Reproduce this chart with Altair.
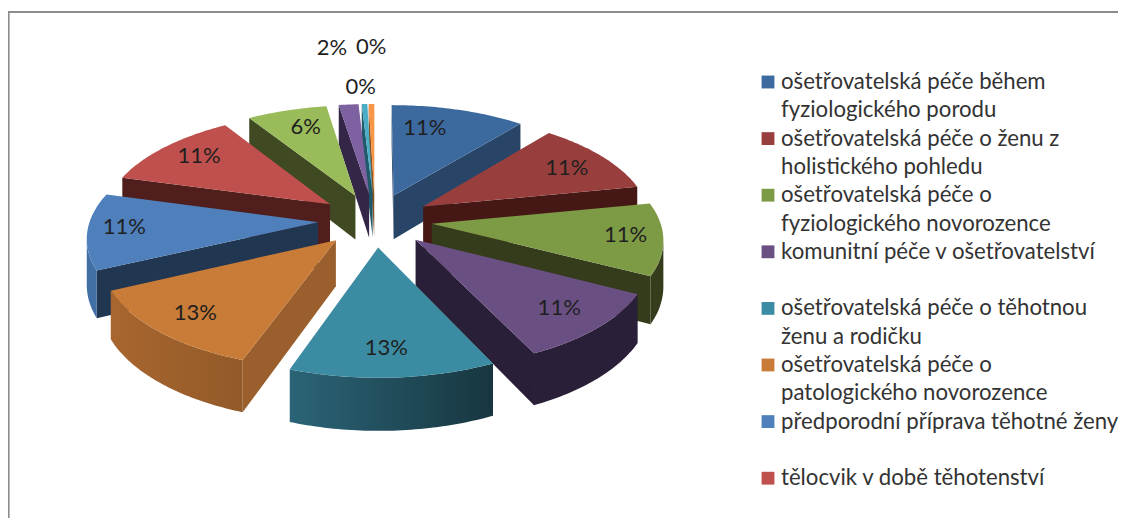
import math
import altair as alt
import pandas as pd

# ---- chart values ----
categories = [
    "ošetřovatelská péče během fyziologického porodu",
    "ošetřovatelská péče o ženu z holistického pohledu",
    "ošetřovatelská péče o fyziologického novorozence",
    "komunitní péče v ošetřovatelství",
    "ošetřovatelská péče o těhotnou ženu a rodičku",
    "ošetřovatelská péče o patologického novorozence",
    "předporodní příprava těhotné ženy",
    "tělocvik v době těhotenství",
    "další 1", "další 2", "další 3", "další 4",
]
values = [10.9, 11.0, 10.7, 10.3, 12.5, 12.6, 11.3, 11.7, 6.5, 1.6, 0.45, 0.45]
labels = ["11%", "11%", "11%", "11%", "13%", "13%", "11%", "11%", "6%", "2%", "0%", "0%"]
legend_lines = [
    ["ošetřovatelská péče během", "fyziologického porodu"],
    ["ošetřovatelská péče o ženu z", "holistického pohledu"],
    ["ošetřovatelská péče o", "fyziologického novorozence"],
    ["komunitní péče v ošetřovatelství", ""],
    ["ošetřovatelská péče o těhotnou", "ženu a rodičku"],
    ["ošetřovatelská péče o", "patologického novorozence"],
    ["předporodní příprava těhotné ženy", ""],
    ["tělocvik v době těhotenství", ""],
]
top_colors = ["#3D6A9E", "#983F3D", "#7D9A45", "#6A4F82", "#3B8CA3", "#C97B38",
              "#4F80BC", "#BF504D", "#9ABB59", "#7E61A0", "#4AACC5", "#F79646"]
wall_colors = ["#284568", "#451815", "#343C1C", "#2A1F38", "#1E4A58", "#9A5F2C",
               "#203651", "#501E1C", "#404A22", "#342646", "#1F5A6A", "#8A5020"]
outer_colors = ["#284568", "#451815", "#343C1C", "#2A1F38",
                ("#2B6477", "#173640"), ("#A9662F", "#925A28"),
                "#426FA6", "#501E1C", "#404A22", "#342646", "#1F5A6A", "#8A5020"]

# ---- page and projection of the tilted pie ----
W, H = 1110, 510
OX, OY = 8, 8
CX, CY = 375 - OX, 220 - OY
A, B, K = 228.0, 107.0, 0.122
DEPTH, EXPLODE, LABEL_R = 45.0, 0.25, 0.72
# label adjustments relative to the computed anchor
nudges = [(-17, -4), (13, -2), (28, 0), (16, 7), (-2, 10), (-17, 9),
          (-28, -2), (-10, -6), (1, -6), (-22, -80), (-6, -40), (-1, -80)]

x_scale = alt.Scale(domain=[0, W], range=[0, W], nice=False, zero=False)
y_scale = alt.Scale(domain=[0, H], range=[0, H], nice=False, zero=False)


def project(u, v, h=0.0):
    s = 1.0 / (1.0 - K * v)
    return CX + A * u * s, CY + B * v * s + DEPTH * h * s


def direction(deg):
    t = math.radians(deg)
    return math.sin(t), -math.cos(t)


def polygon(points, fill):
    df = pd.DataFrame({"x": [p[0] for p in points], "y": [p[1] for p in points],
                       "i": range(len(points))})
    if isinstance(fill, tuple):
        fill = alt.Gradient(gradient="linear", x1=0, x2=1, y1=0, y2=0,
                            stops=[alt.GradientStop(color=fill[0], offset=0),
                                   alt.GradientStop(color=fill[1], offset=1)])
    return alt.Chart(df).mark_line(fill=fill, stroke="transparent", strokeWidth=0).encode(
        x=alt.X("x:Q", scale=x_scale, axis=None),
        y=alt.Y("y:Q", scale=y_scale, axis=None),
        order="i:Q",
    )


layers = []
slices = []
total = sum(values)
angle = 0.0
for idx, val in enumerate(values):
    start, end = angle, angle + 360.0 * val / total
    angle = end
    mid = (start + end) / 2
    du, dv = direction(mid)
    ou, ov = EXPLODE * du, EXPLODE * dv
    steps = max(2, int(end - start) + 1)
    ground = []
    for n in range(steps + 1):
        su, sv = direction(start + (end - start) * n / steps)
        ground.append((ou + su, ov + sv))
    slices.append(dict(idx=idx, mid=mid, o=(ou, ov), ground=ground,
                       depth=ov + 0.5 * dv))

for s in sorted(slices, key=lambda q: q["depth"]):
    idx = s["idx"]
    ou, ov = s["o"]
    g = s["ground"]
    apex = project(ou, ov)
    apex_low = project(ou, ov, 1)
    top = [project(u, v) for u, v in g]
    low = [project(u, v, 1) for u, v in g]
    mid_pt = top[len(top) // 2]
    for k in (0, -1):
        c = top[k]
        dx = c[0] - apex[0]
        line_y = apex[1] + (c[1] - apex[1]) * ((mid_pt[0] - apex[0]) / dx) if abs(dx) > 1e-6 else None
        if line_y is None:
            continue
        if mid_pt[1] < line_y:
            layers.append(polygon([apex, c, low[k], apex_low], wall_colors[idx]))
    keep = [n for n in range(len(top) - 1) if top[n + 1][0] < top[n][0]]
    if keep:
        a0, a1 = keep[0], keep[-1] + 1
        layers.append(polygon(top[a0:a1 + 1] + low[a0:a1 + 1][::-1], outer_colors[idx]))
    layers.append(polygon([apex] + top, top_colors[idx]))

# percentage labels
lab = []
for s in slices:
    du, dv = direction(s["mid"])
    px, py = project(s["o"][0] + LABEL_R * du, s["o"][1] + LABEL_R * dv)
    lab.append({"x": px + nudges[s["idx"]][0], "y": py + nudges[s["idx"]][1], "t": labels[s["idx"]]})
layers.append(alt.Chart(pd.DataFrame(lab)).mark_text(
    font="Lato", fontSize=22, color="#1f1f1f", align="center", baseline="middle").encode(
    x=alt.X("x:Q", scale=x_scale, axis=None), y=alt.Y("y:Q", scale=y_scale, axis=None), text="t:N"))

# legend drawn as squares and text lines
ROW0, ROWSTEP = 82 - OY, 28.3
rows, squares = [], []
r = 0
for i, pair in enumerate(legend_lines):
    squares.append({"x": 768 - OX, "y": ROW0 + r * ROWSTEP, "c": top_colors[i]})
    for line in pair:
        if line:
            rows.append({"x": 781 - OX, "y": ROW0 + r * ROWSTEP, "t": line})
        r += 1
layers.append(alt.Chart(pd.DataFrame(squares)).mark_square(size=165, opacity=1).encode(
    x=alt.X("x:Q", scale=x_scale, axis=None), y=alt.Y("y:Q", scale=y_scale, axis=None),
    fill=alt.Fill("c:N", scale=None), stroke=alt.value("transparent")))
layers.append(alt.Chart(pd.DataFrame(rows)).mark_text(
    font="Lato", fontSize=22.2, color="#333333", align="left", baseline="middle").encode(
    x=alt.X("x:Q", scale=x_scale, axis=None), y=alt.Y("y:Q", scale=y_scale, axis=None), text="t:N"))

# frame: left and top edge only
layers.append(alt.Chart(pd.DataFrame({"a": [0]})).mark_rule(color="#8c8c8c", strokeWidth=1.6).encode(
    x=alt.value(0.8), y=alt.value(3), y2=alt.value(H)))
layers.append(alt.Chart(pd.DataFrame({"a": [0]})).mark_rule(color="#8c8c8c", strokeWidth=2).encode(
    y=alt.value(4), x=alt.value(0), x2=alt.value(W)))

chart = alt.layer(*layers).properties(
    width=W, height=H, padding=0, background="white",
    autosize=alt.AutoSizeParams(type="none"),
).configure_view(stroke=None)
chart.save("out.html", embed_options={"renderer": "svg", "actions": False})
